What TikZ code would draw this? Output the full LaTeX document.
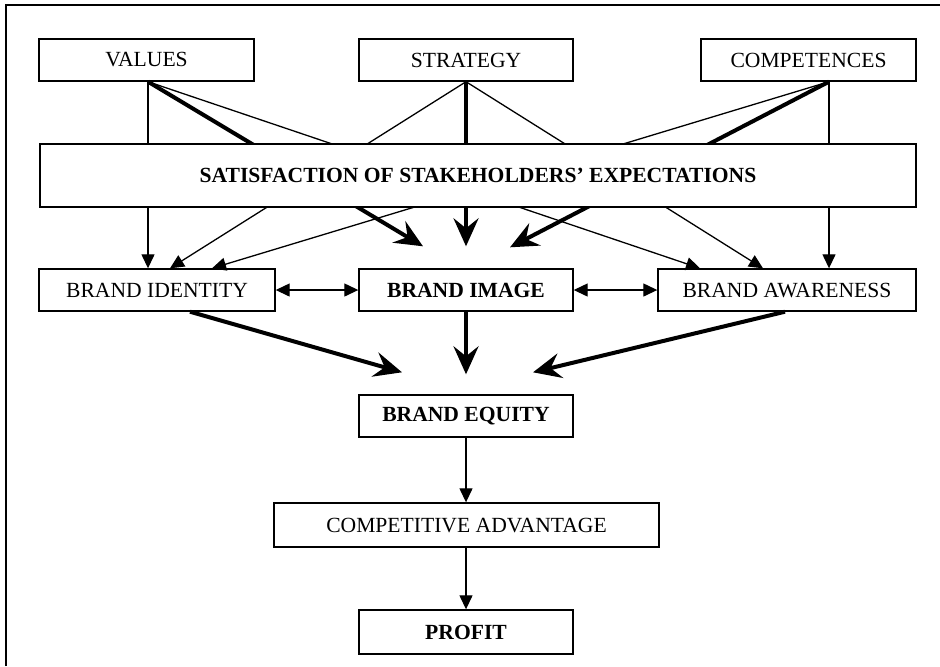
\documentclass[tikz,border=0pt]{standalone}
\usepackage{fontspec}
\setmainfont{Liberation Serif}
\usetikzlibrary{calc,arrows.meta}
\tikzset{>=Triangle,
  box/.style={draw,line width=0.7pt,fill=white,inner sep=0pt,align=center,
    font=\fontsize{10.8}{12}\selectfont},
  boldbox/.style={box,font=\fontsize{10.8}{12}\selectfont\bfseries},
  thinarr/.style={line width=0.65pt,-{Triangle[length=7pt,width=6.5pt]}},
  dblarr/.style={line width=0.65pt,{Triangle[length=7pt,width=6.5pt]}-{Triangle[length=7pt,width=6.5pt]}},
  thickarr/.style={line width=2pt,-{Stealth[length=14pt,width=12.5pt,inset=5pt]}}}

\begin{document}
\begin{tikzpicture}[x=0.5pt,y=-0.5pt]
\useasboundingbox (0,0) rectangle (940,666);
\draw[line width=1pt] (6,666) -- (6,5) -- (940,5);

% top row
\node[box,minimum width=107.5pt,minimum height=21pt] (val) at (146.5,60) {VALUES};
\node[box,minimum width=107pt,minimum height=21pt] (strat) at (466,60) {STRATEGY};
\node[box,minimum width=107.5pt,minimum height=21pt] (comp) at (808.5,60) {COMPETENCES};
\coordinate (valS) at ($(val.south)+(1.5,0)$);
\coordinate (compS) at ($(comp.south)+(20.5,0)$);

% middle row
\node[box,minimum width=118pt,minimum height=21pt] (ident) at (157,290) {BRAND IDENTITY};
\node[boldbox,minimum width=107pt,minimum height=21pt] (image) at (466,290) {BRAND IMAGE};
\node[box,minimum width=129pt,minimum height=21pt] (aware) at (787,290) {BRAND AWARENESS};

% lower column
\node[boldbox,minimum width=107pt,minimum height=21pt] (equity) at (466,416) {BRAND EQUITY};
\node[box,minimum width=192.5pt,minimum height=22pt] (adv) at (466.5,525) {COMPETITIVE ADVANTAGE};
\node[boldbox,minimum width=107pt,minimum height=22pt] (profit) at (466,632) {PROFIT};

% arrow ends short of the boxes
\coordinate (in1) at ($(image.north)+(-43,-22)$);
\coordinate (in2) at ($(image.north)+(0,-22)$);
\coordinate (in3) at ($(image.north)+(44,-21)$);
\coordinate (eq1) at ($(equity.north)+(-64,-22)$);
\coordinate (eq2) at ($(equity.north)+(0,-20)$);
\coordinate (eq3) at ($(equity.north)+(67,-22)$);

% from the top row
\draw[thinarr] (valS) -- (valS |- ident.north);
\draw[thickarr] (valS) -- (in1);
\draw[thinarr] (valS) -- ($(aware.north)+(-87,0)$);
\draw[thinarr] (strat.south) -- ($(ident.north)+(13,0)$);
\draw[thickarr] (strat.south) -- (in2);
\draw[thinarr] (strat.south) -- ($(aware.north)+(-24,0)$);
\draw[thinarr] (compS) -- ($(ident.north)+(55,0)$);
\draw[thickarr] (compS) -- (in3);
\draw[thinarr] (compS) -- (compS |- aware.north);

\node[boldbox,minimum width=438pt,minimum height=31.5pt] (sat) at (478,175.5) {SATISFACTION OF STAKEHOLDERS’ EXPECTATIONS};

\draw[dblarr] (ident.east) -- (image.west);
\draw[dblarr] (image.east) -- (aware.west);

\draw[thickarr] ($(ident.south)+(33,0)$) -- (eq1);
\draw[thickarr] (image.south) -- (eq2);
\draw[thickarr] ($(aware.south)+(-2,0)$) -- (eq3);

\draw[thinarr] (equity.south) -- (adv.north -| equity.south);
\draw[thinarr] (adv.south -| profit.north) -- (profit.north);
\end{tikzpicture}
\end{document}
